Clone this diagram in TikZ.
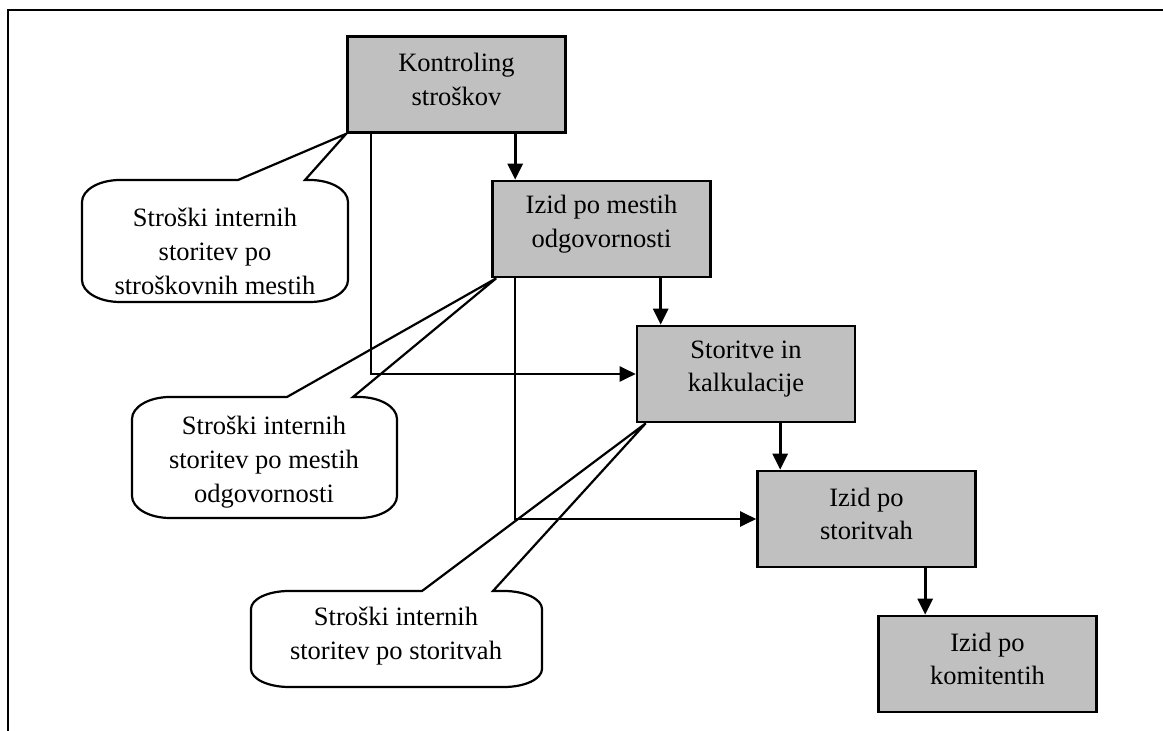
\documentclass[tikz,border=0pt]{standalone}
\usepackage{fontspec}
\setmainfont{Liberation Serif}
\usetikzlibrary{arrows.meta}
\definecolor{boxgray}{HTML}{C0C0C0}
\begin{document}
\begin{tikzpicture}[x=1pt,y=1pt,
  box/.style={draw=black, line width=2.6pt, fill=boxgray, minimum width=218pt,
    minimum height=96pt, inner sep=0pt},
  boxlbl/.style={align=center, font=\fontsize{26.5}{33.5}\selectfont,
    yshift=5pt, inner sep=0pt},
  note/.style={align=center, font=\fontsize{26.5}{34}\selectfont, inner sep=0pt},
  flow/.style={line width=2.6pt, -{Triangle[length=16pt,width=15pt]}},
  route/.style={line width=2.2pt, -{Triangle[length=16pt,width=15pt]}},
  balloon/.style={draw, line width=2.2pt, line join=miter}
]
\useasboundingbox (0,0) rectangle (1163,731);

% page frame (top and left edges)
\draw[line width=2.6pt] (8,0) -- (8,721) -- (1163,721);

% process boxes
\node[box, label={[boxlbl]center:Kontroling\\stroškov}] (k) at (456.5,646.5) {};
\node[box, label={[boxlbl]center:Izid po mestih\\odgovornosti}] (m) at (601.5,502) {};
\node[box, label={[boxlbl]center:Storitve in\\kalkulacije}] (s) at (746,357) {};
\node[box, label={[boxlbl]center:Izid po\\storitvah}] (st) at (866.5,212) {};
\node[box, label={[boxlbl]center:Izid po\\komitentih}] (ko) at (987.5,67) {};

% entry points of the downward arrows
\path ([xshift=24]m.north west) coordinate (in-m);
\path ([xshift=25]s.north west) coordinate (in-s);
\path ([xshift=24]st.north west) coordinate (in-st);
\path ([xshift=48]ko.north west) coordinate (in-ko);

\draw[flow] (in-m |- k.south) -- (in-m);
\draw[flow] (in-s |- m.south) -- (in-s);
\draw[flow] (in-st |- s.south) -- (in-st);
\draw[flow] (in-ko |- st.south) -- (in-ko);

% bypass routes
\draw[route] ([xshift=25]k.south west) |- (s.west);
\draw[route] ([xshift=24]m.south west) |- (st.west);

% speech balloons
\draw[balloon] (238,551) -- (k.south west) -- (305,551) -- (310,551)
  arc[start angle=90,end angle=0,x radius=38,y radius=22] -- (348,451)
  arc[start angle=0,end angle=-90,x radius=38,y radius=22] -- (120,429)
  arc[start angle=270,end angle=180,x radius=38,y radius=22] -- (82,529)
  arc[start angle=180,end angle=90,x radius=38,y radius=22] -- cycle;
\node[note] (n1) at (215,480) {Stroški internih\\storitev po\\stroškovnih mestih};

\draw[balloon] (287,334) -- ([xshift=5]m.south west) -- (353,334) -- (359,334)
  arc[start angle=90,end angle=0,x radius=38,y radius=22] -- (397,235)
  arc[start angle=0,end angle=-90,x radius=38,y radius=22] -- (170,213)
  arc[start angle=270,end angle=180,x radius=38,y radius=22] -- (132,312)
  arc[start angle=180,end angle=90,x radius=38,y radius=22] -- cycle;
\node[note] (n2) at (264,269) {Stroški internih\\storitev po mestih\\odgovornosti};

\draw[balloon] (422,140) -- ([xshift=10]s.south west) -- (493,140) -- (504,140)
  arc[start angle=90,end angle=0,x radius=38,y radius=18] -- (542,62)
  arc[start angle=0,end angle=-90,x radius=38,y radius=18] -- (289,44)
  arc[start angle=270,end angle=180,x radius=38,y radius=18] -- (251,122)
  arc[start angle=180,end angle=90,x radius=38,y radius=18] -- cycle;
\node[note] (n3) at (396,95) {Stroški internih\\storitev po storitvah};
\end{tikzpicture}
\end{document}
